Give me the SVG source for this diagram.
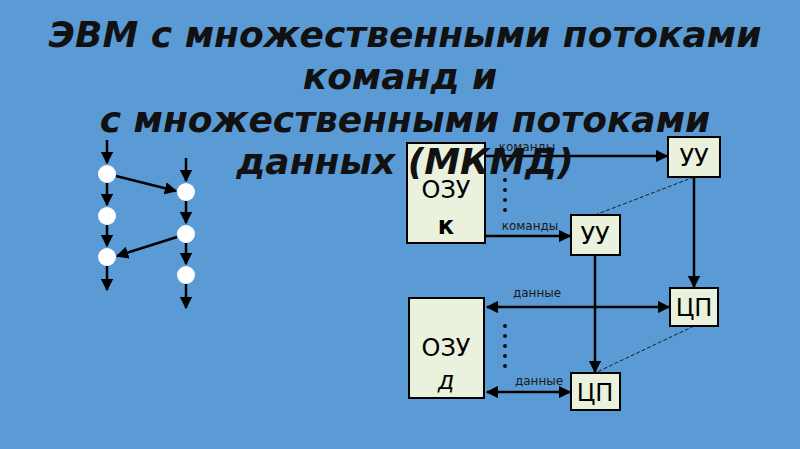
<svg xmlns="http://www.w3.org/2000/svg" width="800" height="449" viewBox="0 0 800 449">
<defs>
<marker id="a" viewBox="0 0 10 10" refX="9" refY="5" markerWidth="5" markerHeight="5" orient="auto-start-reverse"><path d="M0,0 L10,5 L0,10 z" fill="#000"/></marker>
<style>
.b{fill:#eaf1dd;stroke:#000;stroke-width:2}
.l{stroke:#000;stroke-width:2.5;fill:none;marker-end:url(#a)}
.d{stroke:#000;stroke-width:0.8;stroke-dasharray:4 2;fill:none}
.c{fill:#fff}
.t{font-family:"DejaVu Sans",sans-serif;fill:#000;text-anchor:middle}
.s{font-family:"DejaVu Sans",sans-serif;font-size:12px;fill:#1a1a1a;text-anchor:middle}
.h{font-family:"DejaVu Sans",sans-serif;font-size:36px;font-weight:bold;font-style:italic;fill:#111;text-anchor:middle}
</style>
</defs>
<rect width="800" height="449" fill="#5b9bd5"/>
<g id="graph">
<line class="l" x1="107" y1="140" x2="107" y2="163"/>
<line class="l" x1="107" y1="183" x2="107" y2="205"/>
<line class="l" x1="107" y1="225" x2="107" y2="246"/>
<line class="l" x1="107" y1="266" x2="107" y2="290"/>
<line class="l" x1="186" y1="158" x2="186" y2="181"/>
<line class="l" x1="186" y1="201" x2="186" y2="223"/>
<line class="l" x1="186" y1="243" x2="186" y2="264"/>
<line class="l" x1="186" y1="284" x2="186" y2="308"/>
<line class="l" x1="116" y1="176" x2="176" y2="191"/>
<line class="l" x1="177" y1="237" x2="117" y2="256"/>
<circle class="c" cx="107" cy="174" r="9"/><circle class="c" cx="107" cy="216" r="9"/><circle class="c" cx="107" cy="257" r="9"/>
<circle class="c" cx="186" cy="192" r="9"/><circle class="c" cx="186" cy="234" r="9"/><circle class="c" cx="186" cy="275" r="9"/>
</g>
<g id="connectors">
<line class="l" x1="485" y1="156" x2="667" y2="156"/>
<line class="l" x1="485" y1="236" x2="570" y2="236"/>
<line class="l" x1="694" y1="177" x2="694" y2="287"/>
<line class="l" x1="595" y1="255" x2="595" y2="372"/>
<line class="l" x1="487" y1="307" x2="669" y2="307" marker-start="url(#a)"/>
<line class="l" x1="487" y1="392" x2="570" y2="392" marker-start="url(#a)"/>
<line class="d" x1="694" y1="177" x2="595" y2="215"/>
<line class="d" x1="694" y1="326" x2="595" y2="373"/>
<g fill="#111"><circle cx="505" cy="170" r="2"/><circle cx="505" cy="180" r="2"/><circle cx="505" cy="190" r="2"/><circle cx="505" cy="200" r="2"/><circle cx="505" cy="210" r="2"/>
<circle cx="505" cy="326" r="2"/><circle cx="505" cy="336" r="2"/><circle cx="505" cy="346" r="2"/><circle cx="505" cy="356" r="2"/><circle cx="505" cy="366" r="2"/></g>
<text class="s" x="527" y="151">команды</text>
<text class="s" x="530" y="230">команды</text>
<text class="s" x="537" y="297">данные</text>
<text class="s" x="539" y="385">данные</text>
</g>
<g id="ozuk"><rect class="b" x="407" y="143" width="78" height="100"/><text class="t" x="446" y="198" font-size="24">ОЗУ</text><text class="t" x="446" y="234" font-size="24" font-weight="bold">к</text></g>
<g id="uu1"><rect class="b" x="668" y="137" width="52" height="40"/><text class="t" x="694" y="166" font-size="24">УУ</text></g>
<g id="uu2"><rect class="b" x="571" y="215" width="49" height="40"/><text class="t" x="595" y="244" font-size="24">УУ</text></g>
<g id="ozud"><rect class="b" x="409" y="298" width="75" height="100"/><text class="t" x="446" y="356" font-size="24">ОЗУ</text><text class="t" x="446" y="389" font-size="24" font-style="italic">д</text></g>
<g id="cp1"><rect class="b" x="670" y="288" width="48" height="38"/><text class="t" x="694" y="316" font-size="24">ЦП</text></g>
<g id="cp2"><rect class="b" x="571" y="373" width="49" height="37"/><text class="t" x="595" y="401" font-size="24">ЦП</text></g>
<g id="title">
<text class="h" x="405" y="47">ЭВМ с множественными потоками</text>
<text class="h" x="400" y="89">команд и</text>
<text class="h" x="405" y="132">с множественными потоками</text>
<text class="h" x="405" y="174">данных (МКМД)</text>
</g>
</svg>
